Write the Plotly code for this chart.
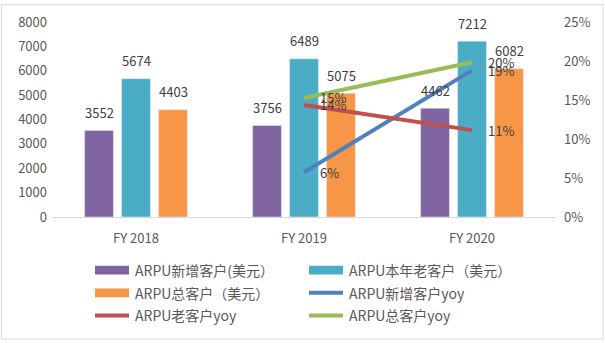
import plotly.graph_objects as go

categories = ["FY 2018", "FY 2019", "FY 2020"]

# ARPU values (USD)
arpu_new = [3552, 3756, 4462]
arpu_old = [5674, 6489, 7212]
arpu_total = [4403, 5075, 6082]

# year-over-year growth (from FY 2019)
yoy_years = ["FY 2019", "FY 2020"]
yoy_new = [0.0574, 0.1880]
yoy_old = [0.1436, 0.1114]
yoy_total = [0.1526, 0.1984]

bar_names = ["ARPU新增客户(美元）", "ARPU本年老客户（美元）", "ARPU总客户（美元）"]
line_names = ["ARPU新增客户yoy", "ARPU老客户yoy", "ARPU总客户yoy"]

PURPLE, TEAL, ORANGE = "#8064A2", "#4BACC6", "#F79646"
BLUE, RED, GREEN = "#4F81BD", "#C0504D", "#9BBB59"
TXT = "#404040"
TICK = "#595959"
FONT = "Noto Sans CJK SC"

W, H = 605, 343
L, R, T, B = 52, 556, 19, 217  # plot area in pixels


def px(x):
    return (x - L) / (R - L)


def py(y):
    return (B - y) / (B - T)


fig = go.Figure()

bar_sets = [(arpu_new, PURPLE), (arpu_old, TEAL), (arpu_total, ORANGE)]
for (vals, col), name in zip(bar_sets, bar_names):
    fig.add_trace(go.Bar(x=categories, y=vals, name=name, marker_color=col,
                         showlegend=False, yaxis="y"))

line_sets = [(yoy_new, BLUE), (yoy_old, RED), (yoy_total, GREEN)]
for (vals, col), name in zip(line_sets, line_names):
    fig.add_trace(go.Scatter(x=yoy_years, y=vals, name=name, mode="lines",
                             line=dict(color=col, width=4), showlegend=False,
                             yaxis="y2"))

annotations = []
# value labels above bars
for (vals, _), shift in zip(bar_sets, [-37, 0, 37]):
    for c, v in zip(categories, vals):
        annotations.append(dict(x=c, y=v, xref="x", yref="y", text=str(v),
                                showarrow=False, xshift=shift, yshift=18,
                                yanchor="middle",
                                font=dict(family=FONT, size=13, color=TXT)))
# percentage labels right of the line points
for vals, _ in line_sets:
    for c, v in zip(yoy_years, vals):
        annotations.append(dict(x=c, y=v, xref="x", yref="y2",
                                text=f"{v:.0%}", showarrow=False,
                                xanchor="left", xshift=14, yanchor="middle",
                                font=dict(family=FONT, size=13, color=TXT)))

shapes = []
# outer frame
shapes.append(dict(type="rect", xref="paper", yref="paper",
                   x0=px(1.5), x1=px(603), y0=py(341), y1=py(1.5),
                   line=dict(color="#D9D9D9", width=1), fillcolor="rgba(0,0,0,0)",
                   layer="below"))

# legend (two columns, three rows)
legend_items = [
    (bar_names[0], PURPLE, "bar", 95, 271),
    (bar_names[1], TEAL, "bar", 309, 271),
    (bar_names[2], ORANGE, "bar", 95, 294),
    (line_names[0], BLUE, "line", 309, 294),
    (line_names[1], RED, "line", 95, 317),
    (line_names[2], GREEN, "line", 309, 317),
]
for name, col, kind, x0, yc in legend_items:
    if kind == "bar":
        shapes.append(dict(type="rect", xref="paper", yref="paper",
                           x0=px(x0), x1=px(x0 + 34), y0=py(yc + 4.5),
                           y1=py(yc - 4.5), fillcolor=col, line=dict(width=0)))
    else:
        shapes.append(dict(type="line", xref="paper", yref="paper",
                           x0=px(x0), x1=px(x0 + 34), y0=py(yc), y1=py(yc),
                           line=dict(color=col, width=4)))
    annotations.append(dict(x=px(x0 + 38), y=py(yc), xref="paper", yref="paper",
                            text=name, showarrow=False, xanchor="left",
                            yanchor="middle",
                            font=dict(family=FONT, size=14, color=TICK)))

fig.update_layout(
    width=W, height=H,
    margin=dict(l=L, r=W - R, t=T, b=H - B),
    paper_bgcolor="white", plot_bgcolor="white",
    barmode="group", bargap=0.34, bargroupgap=0.22,
    showlegend=False,
    font=dict(family=FONT, size=13, color=TICK),
    xaxis=dict(showline=True, linecolor="#D9D9D9", linewidth=1,
               showgrid=False, ticks="", tickfont=dict(size=13, color=TICK),
               ticklabelstandoff=9),
    yaxis=dict(range=[0, 8000], dtick=1000, showgrid=False, zeroline=False,
               showline=False, ticks="", tickfont=dict(size=13, color=TICK),
               ticklabelstandoff=4),
    yaxis2=dict(range=[0, 0.25], dtick=0.05, tickformat=".0%", overlaying="y",
                side="right", showgrid=False, zeroline=False, showline=False,
                ticks="", tickfont=dict(size=13, color=TICK),
                ticklabelstandoff=7),
    annotations=annotations,
    shapes=shapes,
)

fig.write_html("out.html")
